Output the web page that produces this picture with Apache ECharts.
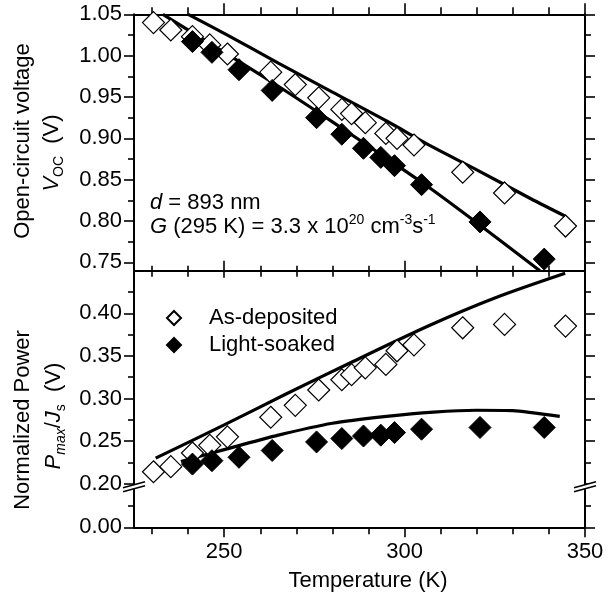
<!DOCTYPE html>
<html><head><meta charset="utf-8">
<script src="https://cdn.jsdelivr.net/npm/echarts@6/dist/echarts.min.js"></script>
<style>html,body{margin:0;padding:0;background:#fff}#c{width:609px;height:599px}</style>
</head><body><div id="c"></div>
<script>
// ---------- data ----------
const tempAsDep = [230.4,235.2,241.2,246.0,250.9,262.9,269.7,276.2,282.6,285.3,289.1,294.8,297.9,302.6,316.1,327.7,344.6];
const vocAsDep  = [1.040,1.031,1.023,1.013,1.002,0.980,0.965,0.949,0.935,0.930,0.919,0.906,0.900,0.892,0.859,0.834,0.794];
const pmaxAsDep = [0.214,0.220,0.236,0.245,0.255,0.278,0.292,0.310,0.322,0.328,0.336,0.340,0.356,0.363,0.383,0.387,0.385];

const tempLS = [241.2,246.6,254.1,263.3,275.6,282.6,288.6,293.4,297.2,304.7,320.9,338.7];
const vocLS  = [1.017,1.004,0.983,0.958,0.925,0.905,0.888,0.877,0.867,0.844,0.799,0.754];
const pmaxLS = [0.223,0.227,0.231,0.239,0.249,0.253,0.256,0.257,0.260,0.264,0.266,0.266];

const fitVocAsDepT = [240,250,265,280,295,308,320,335,344.5];
const fitVocAsDepV = [1.050,1.027,0.991,0.956,0.921,0.889,0.862,0.827,0.806];
const fitVocLST = [233,250,265,280,295,307,320,337.5];
const fitVocLSV = [1.050,1.004,0.963,0.920,0.876,0.840,0.798,0.740];
const fitPAsDepT = [231,250,267,285,307,325,344.5];
const fitPAsDepV = [0.230,0.269,0.305,0.342,0.386,0.418,0.447];
const fitPLST = [238,250,265,280,295,308,320,330,343];
const fitPLSV = [0.226,0.240,0.257,0.271,0.279,0.284,0.2862,0.2858,0.279];

const xMajor = [250,300,350];
const xMinor = [230,240,260,270,280,290,310,320,330,340];
const vocMajor = [0.75,0.80,0.85,0.90,0.95,1.00,1.05];
const vocMinor = [0.775,0.825,0.875,0.925,0.975,1.025];
const pMajor = [0.20,0.25,0.30,0.35,0.40];
const pMinor = [0.225,0.275,0.325,0.375,0.425];
const pLowMajor = [0.00];
const pLowMinor = [0.10];

// ---------- helpers ----------
const FONT = 'Arial, "Liberation Sans", sans-serif';
const FS = 22;
const pairs = (a,b)=>a.map((t,i)=>[t,b[i]]);

function xAx(grid, pos, ticks, len, showLine, labels){
  return {
    type:'value', gridIndex:grid, position:pos, min:225, max:350,
    axisLine:{show:showLine, onZero:false, lineStyle:{color:'#000', width:2}},
    axisTick:{show:true, inside:false, length:len, customValues:ticks, lineStyle:{color:'#000', width:1.6}},
    axisLabel: labels ? {show:true, customValues:labels, margin:14, color:'#000', fontSize:FS, fontFamily:FONT, formatter:v=>String(Math.round(v))} : {show:false},
    splitLine:{show:false}
  };
}
function yAx(grid, pos, min, max, ticks, len, showLine, labels){
  return {
    type:'value', gridIndex:grid, position:pos, min:min, max:max,
    axisLine:{show:showLine, onZero:false, lineStyle:{color:'#000', width:2}},
    axisTick:{show:true, inside:false, length:len, customValues:ticks, lineStyle:{color:'#000', width:1.6}},
    axisLabel: labels ? {show:true, customValues:labels, margin:12, color:'#000', fontSize:FS, fontFamily:FONT, formatter:v=>v.toFixed(2)} : {show:false},
    splitLine:{show:false}
  };
}

const chart = echarts.init(document.getElementById('c'), null, {renderer:'canvas'});

const openStyle = {color:'#fff', borderColor:'#000', borderWidth:1.2, opacity:1};
const fillStyle = {color:'#000', borderColor:'#000', borderWidth:1, opacity:1};
const lineStyle = {color:'#000', width:3.2, opacity:1};

const option = {
  animation:false,
  backgroundColor:'#fff',
  grid:[
    {left:134, width:451, top:14.3, height:256.4},
    {left:134, width:451, top:270.7, height:213},
    {left:134, width:451, top:483.7, height:43.6}
  ],
  xAxis:[
    xAx(0,'top',xMajor,11,true),
    xAx(0,'top',xMinor,7,false),
    xAx(0,'bottom',xMajor,7,true),
    xAx(0,'bottom',xMinor,6,false),
    xAx(1,'top',xMajor,10,true),
    xAx(1,'top',xMinor,5,false),
    xAx(2,'bottom',xMajor,10,true,xMajor),
    xAx(2,'bottom',xMinor,7,false)
  ],
  yAxis:[
    yAx(0,'left',0.74,1.05,vocMajor,10,true,vocMajor),
    yAx(0,'left',0.74,1.05,vocMinor,6,false),
    yAx(0,'right',0.74,1.05,vocMajor,10,true),
    yAx(0,'right',0.74,1.05,vocMinor,6,false),
    yAx(1,'left',0.20,0.45,pMajor,10,true,pMajor),
    yAx(1,'left',0.20,0.45,pMinor,6,false),
    yAx(1,'right',0.20,0.45,pMajor,10,true),
    yAx(1,'right',0.20,0.45,pMinor,6,false),
    yAx(2,'left',0,0.20,pLowMajor,10,true,pLowMajor),
    yAx(2,'left',0,0.20,pLowMinor,6,false),
    yAx(2,'right',0,0.20,pLowMajor,10,true),
    yAx(2,'right',0,0.20,pLowMinor,6,false)
  ],
  legend:{
    show:true, orient:'vertical', left:161, top:302, itemGap:5,
    itemWidth:14, itemHeight:14, selectedMode:false,
    data:[{name:'As-deposited', icon:'diamond'},{name:'Light-soaked', icon:'diamond'}],
    textStyle:{color:'#000', fontSize:FS, fontFamily:FONT, lineHeight:22, padding:[0,0,0,23]}
  },
  series:[
    {type:'line', name:'fit-voc-asdep', xAxisIndex:0, yAxisIndex:0, data:pairs(fitVocAsDepT,fitVocAsDepV), smooth:0.3, showSymbol:false, symbol:'none', lineStyle:lineStyle, z:2, silent:true},
    {type:'line', name:'fit-voc-ls', xAxisIndex:0, yAxisIndex:0, data:pairs(fitVocLST,fitVocLSV), smooth:0.3, showSymbol:false, symbol:'none', lineStyle:lineStyle, z:2, silent:true},
    {type:'line', name:'fit-p-asdep', xAxisIndex:4, yAxisIndex:4, data:pairs(fitPAsDepT,fitPAsDepV), smooth:0.3, showSymbol:false, symbol:'none', lineStyle:lineStyle, z:2, silent:true},
    {type:'line', name:'fit-p-ls', xAxisIndex:4, yAxisIndex:4, data:pairs(fitPLST,fitPLSV), smooth:0.2, showSymbol:false, symbol:'none', lineStyle:lineStyle, z:2, silent:true},
    {type:'scatter', name:'As-deposited', xAxisIndex:0, yAxisIndex:0, data:pairs(tempAsDep,vocAsDep), symbol:'diamond', symbolSize:22, itemStyle:openStyle, z:3},
    {type:'scatter', name:'As-deposited', xAxisIndex:4, yAxisIndex:4, data:pairs(tempAsDep,pmaxAsDep), symbol:'diamond', symbolSize:22, itemStyle:openStyle, z:3},
    {type:'scatter', name:'Light-soaked', xAxisIndex:0, yAxisIndex:0, data:pairs(tempLS,vocLS), symbol:'diamond', symbolSize:22, itemStyle:fillStyle, z:4},
    {type:'scatter', name:'Light-soaked', xAxisIndex:4, yAxisIndex:4, data:pairs(tempLS,pmaxLS), symbol:'diamond', symbolSize:22, itemStyle:fillStyle, z:4}
  ]
};
chart.setOption(option);

// ---------- decorations: titles, annotations, axis breaks ----------
const baseRich = {
  n:{fontSize:FS, fontFamily:FONT, lineHeight:28, fill:'#000'},
  i:{fontSize:FS, fontFamily:FONT, fontStyle:'italic', lineHeight:28, fill:'#000'},
  sub:{fontSize:14, fontFamily:FONT, lineHeight:14, verticalAlign:'bottom', fill:'#000'},
  isub:{fontSize:14, fontFamily:FONT, fontStyle:'italic', lineHeight:14, verticalAlign:'bottom', fill:'#000'},
  sup:{fontSize:14, fontFamily:FONT, lineHeight:14, verticalAlign:'top', fill:'#000'}
};
function txt(x,y,text,rot,align){
  return {type:'text', x:x, y:y, rotation:rot||0, z:100,
    style:{text:text, rich:baseRich, fontSize:FS, fontFamily:FONT, fill:'#000', align:align||'center', verticalAlign:'middle'}};
}
const g = [];
g.push(txt(23,141,'{n|Open-circuit voltage}',Math.PI/2));
g.push(txt(52,153,'{i|V}{sub|OC}{n|  (V)}',Math.PI/2));
g.push(txt(23,420,'{n|Normalized Power}',Math.PI/2));
g.push(txt(54,416,'{i|P}{isub|max}{n|/}{i|J}{sub|s}{n|  (V)}',Math.PI/2));
g.push(txt(368,581,'{n|Temperature (K)}',0));
g.push(txt(150,203,'{i|d}{n| = 893 nm}',0,'left'));
g.push(txt(150,227,'{i|G}{n| (295 K) = 3.3 x 10}{sup|20}{n| cm}{sup|-3}{n|s}{sup|-1}',0,'left'));

function brk(p){
  const x=p[0], y=p[1]+1;
  return [
    {type:'polygon', z:50, shape:{points:[[x-11,y+3],[x+11,y-3],[x+11,y+1],[x-11,y+7]]}, style:{fill:'#fff'}},
    {type:'line', z:51, shape:{x1:x-11,y1:y+3,x2:x+11,y2:y-3}, style:{stroke:'#000', lineWidth:1.5}},
    {type:'line', z:51, shape:{x1:x-11,y1:y+7,x2:x+11,y2:y+1}, style:{stroke:'#000', lineWidth:1.5}}
  ];
}
const pL = chart.convertToPixel({gridIndex:1}, [225, 0.20]);
const pR = chart.convertToPixel({gridIndex:1}, [350, 0.20]);
g.push(...brk(pL), ...brk(pR));
chart.setOption({graphic:g});
</script>
</body></html>
